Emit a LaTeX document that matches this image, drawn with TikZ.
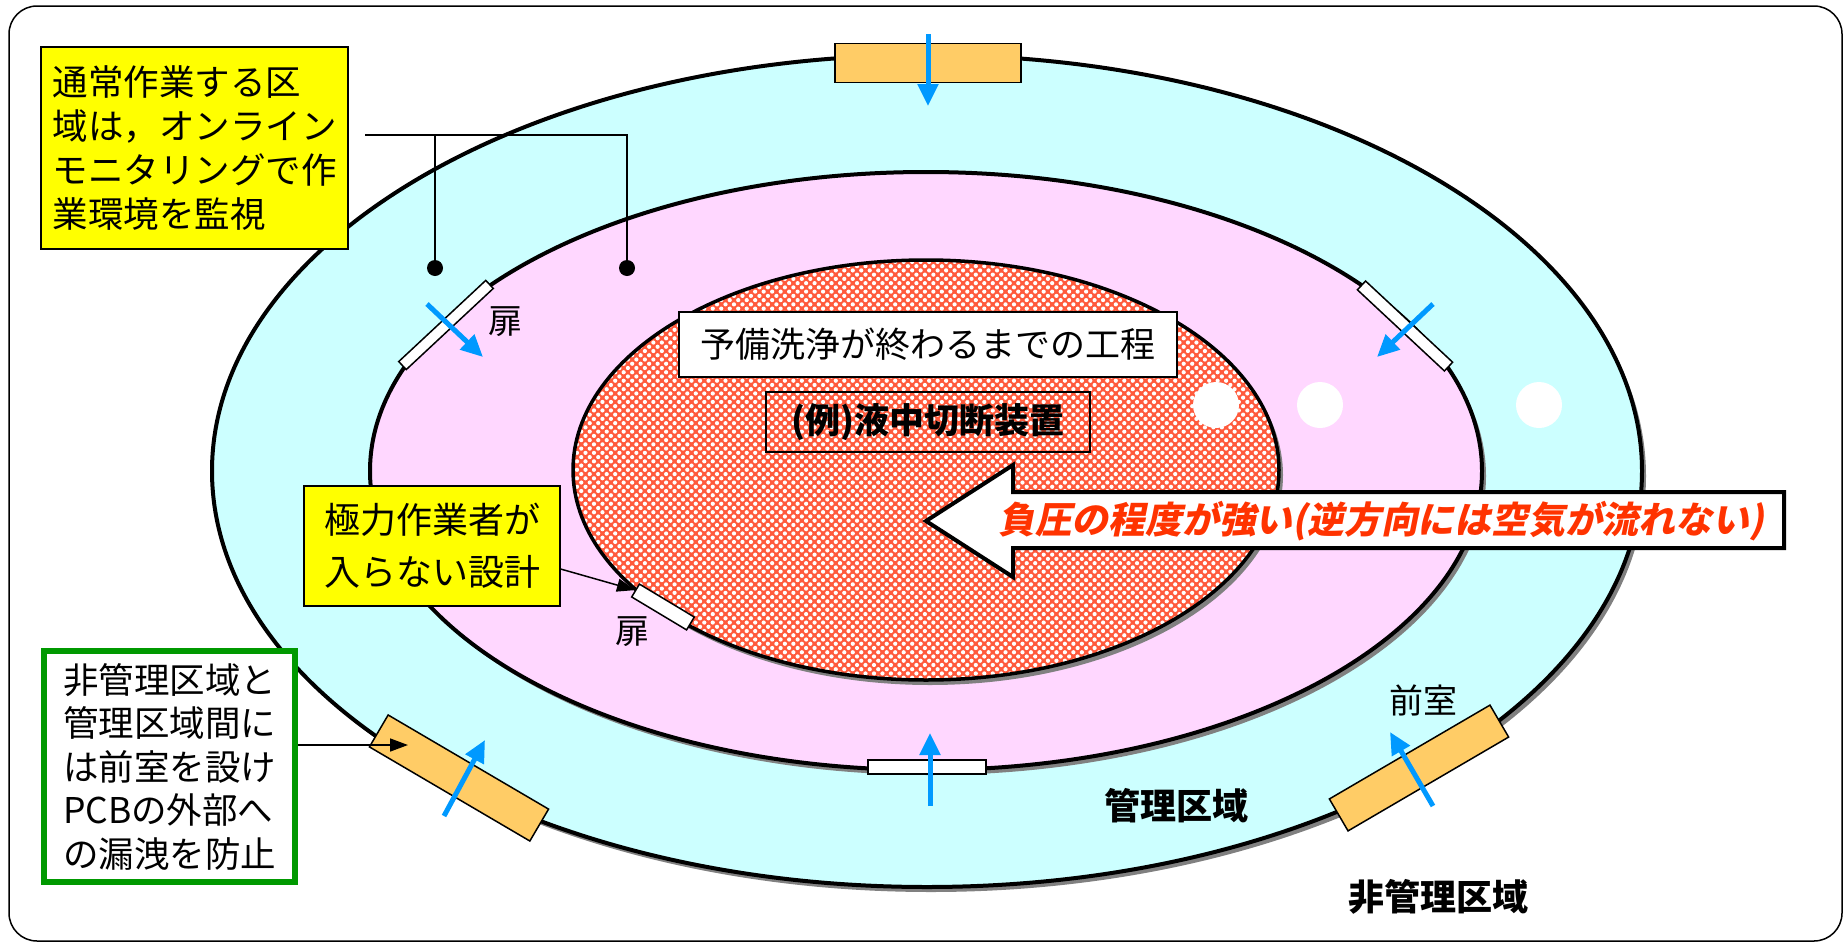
\documentclass[tikz,border=0pt]{standalone}
\usepackage{fontspec}
\setmainfont{Noto Sans CJK JP}
\newfontfamily\slantjp{Noto Sans CJK JP}[FakeSlant=0.2]
\usetikzlibrary{arrows.meta,patterns.meta}
\definecolor{cyanfill}{HTML}{CCFFFF}
\definecolor{pinkfill}{HTML}{FFD7FF}
\definecolor{doororange}{HTML}{FFCC66}
\definecolor{boxyellow}{HTML}{FFFF00}
\definecolor{flowblue}{HTML}{0099FF}
\definecolor{alertred}{HTML}{FF3300}
\definecolor{boxgreen}{HTML}{009900}
\definecolor{hatchred}{HTML}{FF5A3C}
\definecolor{shadowgray}{HTML}{808080}
\tikzset{
  zoneline/.style={draw=black, line width=4pt},
  yellowbox/.style={draw=black, line width=1.2pt, fill=boxyellow, align=left, inner sep=0pt, font=\fontsize{35.5pt}{44pt}\selectfont},
  greenbox/.style={draw=boxgreen, line width=6pt, fill=white, align=left, inner sep=0pt, font=\fontsize{35.5pt}{43.5pt}\selectfont},
  plainbox/.style={draw=black, line width=1.2pt, inner sep=0pt, font=\fontsize{35pt}{40pt}\selectfont},
  whitedoor/.style={draw=black, line width=1.5pt, fill=white, inner sep=0pt},
  orangedoor/.style={draw=black, line width=1.5pt, fill=doororange, inner sep=0pt},
  flowarrow/.style={draw=flowblue, line width=5pt, -{Triangle[length=22pt,width=20pt]}},
  pointer/.style={draw=black, line width=1.5pt, -{Triangle[length=18pt,width=13pt]}},
  leader/.style={draw=black, line width=1.5pt},
  probe/.style={circle, fill=black, inner sep=0pt, minimum size=16pt},
  doorlabel/.style={inner sep=0pt, font=\fontsize{34pt}{40pt}\selectfont},
  zonelabel/.style={inner sep=0pt, font=\fontsize{36pt}{40pt}\selectfont\bfseries},
}
\begin{document}
\begin{tikzpicture}[x=1pt,y=-1pt]
\useasboundingbox (0,0) rectangle (1845,945);
% frame
\draw[line width=1.5pt, rounded corners=28pt] (9,6) rectangle (1842,941);
% outer zone (controlled area)
\fill[shadowgray] (931,476) ellipse [x radius=715, y radius=416];
\draw[zoneline, fill=cyanfill] (927,471) ellipse [x radius=715, y radius=416];
% middle zone
\fill[shadowgray] (930,476) ellipse [x radius=556, y radius=299];
\draw[zoneline, fill=pinkfill] (926,471) ellipse [x radius=556, y radius=299];
% inner zone (hatched)
\fill[shadowgray] (930,475) ellipse [x radius=353, y radius=210];
\fill[hatchred] (926,470) ellipse [x radius=353, y radius=210];
\fill[pattern={Dots[distance=6pt,radius=2.1pt,angle=45]}, pattern color=white] (926,470) ellipse [x radius=353, y radius=210];
\draw[zoneline, line width=3.5pt] (926,470) ellipse [x radius=353, y radius=210];
% white spots
\fill[white] (1216,405) circle (23);
\fill[white] (1320,405) circle (23);
\fill[white] (1539,405) circle (23);
% doors
\node[orangedoor, minimum width=186pt, minimum height=39pt] (doorTop) at (928,63) {};
\node[whitedoor, minimum width=119pt, minimum height=11pt, rotate=43] (doorUL) at (446,325) {};
\node[whitedoor, minimum width=119pt, minimum height=12pt, rotate=-43] (doorUR) at (1405,326) {};
\node[whitedoor, minimum width=64pt, minimum height=15pt, rotate=-31] (doorIn) at (663,607) {};
\node[whitedoor, minimum width=118pt, minimum height=14pt] (doorBot) at (927,767) {};
\node[orangedoor, minimum width=186pt, minimum height=37pt, rotate=-30.4] (doorBL) at (459,778) {};
\node[orangedoor, minimum width=186pt, minimum height=37pt, rotate=30.3] (doorBR) at (1419,768) {};
% air flow arrows
\coordinate (fTopA) at (928,34);   \coordinate (fTopB) at (928,106);
\coordinate (fULA) at (427,304);   \coordinate (fULB) at (483,357);
\coordinate (fURA) at (1433,304);  \coordinate (fURB) at (1377,357);
\coordinate (fBotA) at (930,806);  \coordinate (fBotB) at (930,733);
\coordinate (fBLA) at (444,816);   \coordinate (fBLB) at (485,740);
\coordinate (fBRA) at (1433,806);  \coordinate (fBRB) at (1390,732);
\draw[flowarrow] (fTopA) -- (fTopB);
\draw[flowarrow] (fULA) -- (fULB);
\draw[flowarrow] (fURA) -- (fURB);
\draw[flowarrow] (fBotA) -- (fBotB);
\draw[flowarrow] (fBLA) -- (fBLB);
\draw[flowarrow] (fBRA) -- (fBRB);
% process labels
\node[plainbox, fill=white, minimum width=498pt, minimum height=65pt] (stage) at (928,344.5) {予備洗浄が終わるまでの工程};
\node[plainbox, minimum width=324pt, minimum height=60pt, font=\fontsize{35pt}{40pt}\selectfont\bfseries] (device) at (928,422) {(例)液中切断装置};
% big pressure arrow
\draw[line width=4pt, fill=white, line join=miter] (926,521) -- (1013,465) -- (1013,492) -- (1784,492) -- (1784,548) -- (1013,548) -- (1013,577) -- cycle;
\node[text=alertred, inner sep=0pt, font=\slantjp\bfseries\fontsize{36.8pt}{40pt}\selectfont] (gradient) at (1381,521) {負圧の程度が強い(逆方向には空気が流れない)};
% notes
\node[yellowbox, minimum width=307pt, minimum height=202pt] (note1) at (194.5,148) {通常作業する区\\域は，オンライン\\モニタリングで作\\業環境を監視};
\node[yellowbox, minimum width=256pt, minimum height=120pt, font=\fontsize{36pt}{52pt}\selectfont] (note2) at (432,546) {極力作業者が\\入らない設計};
\node[greenbox, minimum width=251pt, minimum height=231pt] (note3) at (169.5,766.5) {非管理区域と\\管理区域間に\\は前室を設け\\PCBの外部へ\\の漏洩を防止};
% monitoring probes
\node[probe] (probe1) at (435,268) {};
\node[probe] (probe2) at (627,268) {};
\coordinate (leadstart) at (365,135);
\draw[leader] (leadstart) -| (probe2);
\draw[leader] (probe1 |- leadstart) -- (probe1);
% pointers
\draw[pointer] ([yshift=-23pt]note2.east) -- (doorIn.west);
\coordinate (anteIn) at (408,745);
\draw[pointer] (note3.east |- anteIn) -- (anteIn);
% labels
\node[doorlabel] (lblUL) at (505,322) {扉};
\node[doorlabel] (lblIn) at (632,632) {扉};
\node[doorlabel] (lblAnte) at (1423,700) {前室};
\node[zonelabel] (lblCtrl) at (1176,806) {管理区域};
\node[zonelabel] (lblOut) at (1438,897) {非管理区域};
\end{tikzpicture}
\end{document}
